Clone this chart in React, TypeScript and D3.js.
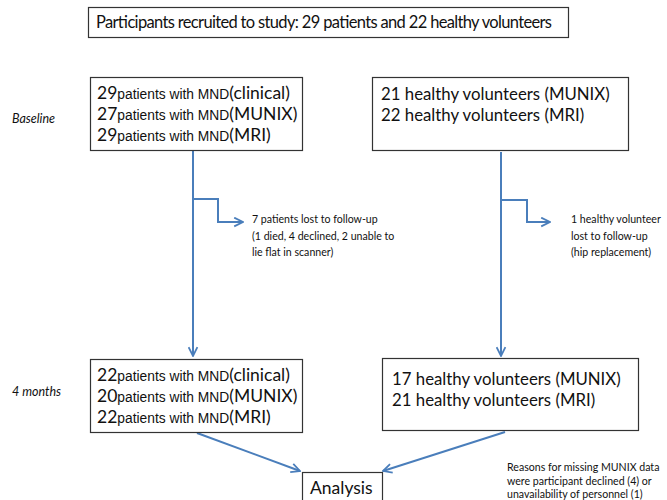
import React, { useRef, useEffect } from "react";
import { select, line } from "d3";

// flow diagram content
const recruitment = ["Participants recruited to study: 29 patients and 22 healthy volunteers"];
const timepoints = ["Baseline", "4 months"];
const patientMeasures = ["clinical", "MUNIX", "MRI"];
const patientsBaseline = [29, 27, 29];
const patientsFollowUp = [22, 20, 22];
const volunteerMeasures = ["MUNIX", "MRI"];
const volunteersBaseline = [21, 22];
const volunteersFollowUp = [17, 21];
const patientLoss = ["7 patients lost to follow-up", "(1 died, 4 declined, 2 unable to", "lie flat in scanner)"];
const volunteerLoss = ["1 healthy volunteer", "lost to follow-up", "(hip replacement)"];
const missingNote = ["Reasons for missing MUNIX data", "were participant declined (4) or", "unavailability of personnel (1)"];
const outcome = ["Analysis"];

const W = 667;
const H = 500;
const BLUE = "#4a7ebb";
const CAL = "Lato, 'Open Sans', sans-serif";
const ARIAL = "'Liberation Sans', Arial, sans-serif";

function App() {
  const svgRef = useRef(null);

  useEffect(() => {
    const svg = select(svgRef.current);
    svg.selectAll("*").remove();

    svg
      .append("defs")
      .append("marker")
      .attr("id", "arrow")
      .attr("viewBox", "0 0 10 10")
      .attr("refX", 9)
      .attr("refY", 5)
      .attr("markerWidth", 5.5)
      .attr("markerHeight", 5.5)
      .attr("markerUnits", "strokeWidth")
      .attr("orient", "auto")
      .append("path")
      .attr("d", "M1,1 L9,5 L1,9")
      .attr("fill", "none")
      .attr("stroke", BLUE)
      .attr("stroke-width", 1.6);

    const box = (x, y, w, h) =>
      svg
        .append("rect")
        .attr("x", x + 0.5)
        .attr("y", y + 0.5)
        .attr("width", w)
        .attr("height", h)
        .attr("fill", "#fff")
        .attr("stroke", "#333")
        .attr("stroke-width", 1.2);

    const path = line();
    const arrow = (pts) =>
      svg
        .append("path")
        .attr("d", path(pts))
        .attr("fill", "none")
        .attr("stroke", BLUE)
        .attr("stroke-width", 2)
        .attr("marker-end", "url(#arrow)");

    // arrows first so boxes sit on top
    arrow([[193, 151], [193, 356]]);
    arrow([[193, 199], [218, 199], [218, 222], [243, 222]]);
    arrow([[501, 152], [501, 356]]);
    arrow([[501, 200], [527, 200], [527, 222], [550, 222]]);
    arrow([[197, 433], [300, 471]]);
    arrow([[505, 432], [383, 471]]);

    // top box
    box(88, 7, 480, 30);
    svg
      .append("text")
      .attr("x", 96)
      .attr("y", 28)
      .attr("font-family", CAL)
      .attr("font-size", 16.5)
      .attr("textLength", 456)
      .attr("fill", "#111")
      .text(recruitment[0]);

    // timepoint labels
    svg
      .selectAll(".tp")
      .data(timepoints)
      .join("text")
      .attr("class", "tp")
      .attr("x", 12)
      .attr("y", (d, i) => [123, 396][i])
      .attr("font-family", CAL)
      .attr("font-style", "italic")
      .attr("font-size", 12.5)
      .attr("fill", "#111")
      .text((d) => d);

    // patient boxes
    const patientBox = (y, counts) => {
      box(90, y, 212, 73);
      counts.forEach((n, i) => {
        const t = svg
          .append("text")
          .attr("x", 97)
          .attr("y", y + 22 + i * 21)
          .attr("fill", "#111");
        t.append("tspan").attr("font-family", CAL).attr("font-size", 17.5).text(n);
        t.append("tspan").attr("font-family", ARIAL).attr("font-size", 13.8).text("patients with MND");
        t.append("tspan").attr("font-family", CAL).attr("font-size", 17.5).text(`(${patientMeasures[i]})`);
      });
    };
    patientBox(77, patientsBaseline);
    patientBox(359, patientsFollowUp);

    // volunteer boxes
    const volunteerBox = (x, y, w, h, counts, x0, y0) => {
      box(x, y, w, h);
      svg
        .selectAll(null)
        .data(counts)
        .join("text")
        .attr("x", x0)
        .attr("y", (d, i) => y0 + i * 21)
        .attr("font-family", CAL)
        .attr("font-size", 16.8)
        .attr("fill", "#111")
        .text((d, i) => `${d} healthy volunteers (${volunteerMeasures[i]})`);
    };
    volunteerBox(372, 77, 256, 73, volunteersBaseline, 381, 100);
    volunteerBox(382, 358, 256, 72, volunteersFollowUp, 392, 385);

    // small notes
    const note = (lines, x, y0, step) =>
      svg
        .selectAll(null)
        .data(lines)
        .join("text")
        .attr("x", x)
        .attr("y", (d, i) => y0 + i * step)
        .attr("font-family", CAL)
        .attr("font-size", 10.6)
        .attr("fill", "#111")
        .text((d) => d);
    note(patientLoss, 252, 223, 16.5);
    note(volunteerLoss, 571, 223, 16.5);
    note(missingNote, 507, 471, 13.5);

    // analysis box
    box(302, 472, 80, 40);
    svg
      .append("text")
      .attr("x", 310)
      .attr("y", 494)
      .attr("font-family", CAL)
      .attr("font-size", 17.5)
      .attr("fill", "#111")
      .text(outcome[0]);
  }, []);

  return (
    <svg
      ref={svgRef}
      width={W}
      height={H}
      style={{ position: "absolute", left: 0, top: 0, background: "#fff" }}
    />
  );
}

export default App;
